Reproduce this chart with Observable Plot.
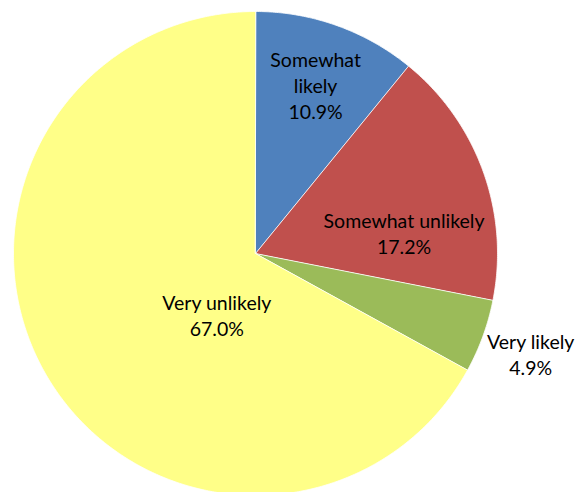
<!DOCTYPE html>
<html>
<head>
<meta charset="utf-8">
<script src="https://cdn.jsdelivr.net/npm/d3@7"></script>
<script src="https://cdn.jsdelivr.net/npm/@observablehq/plot@0.6"></script>
<style>
  html, body { margin: 0; padding: 0; background: #fff; }
  #chart svg { display: block; }
</style>
</head>
<body>
<div id="chart"></div>
<script>
// Data
const categories = ["Somewhat likely", "Somewhat unlikely", "Very likely", "Very unlikely"];
const shares = [10.9, 17.2, 4.9, 67.0];
const colors = ["#4F81BD", "#C0504D", "#9BBB59", "#FFFF88"];

// Label layout (radius fraction, angle shift in degrees)
const labelRadius = [0.74, 0.62, 1.21, 0.30];
const labelShift = [0, 11.7, 0, -27.2];

const pie = d3.pie().sort(null).value(d => d)(shares);

const poly = [];
pie.forEach((p, i) => {
  poly.push({cat: categories[i], x: 0, y: 0});
  const n = Math.max(2, Math.ceil((p.endAngle - p.startAngle) / (Math.PI / 360)));
  for (let k = 0; k <= n; k++) {
    const a = p.startAngle + (p.endAngle - p.startAngle) * k / n;
    poly.push({cat: categories[i], x: Math.sin(a), y: Math.cos(a)});
  }
});

const labels = pie.map((p, i) => {
  const a = (p.startAngle + p.endAngle) / 2 + labelShift[i] * Math.PI / 180;
  return {
    x: labelRadius[i] * Math.sin(a),
    y: labelRadius[i] * Math.cos(a),
    text: categories[i].replace("Somewhat likely", "Somewhat\nlikely") + "\n" + shares[i].toFixed(1) + "%"
  };
});

const W = 575, H = 492, cx = 255, cy = 253, R = 242;

const chart = Plot.plot({
  width: W,
  height: H,
  margin: 0,
  x: {domain: [-cx / R, (W - cx) / R], range: [0, W], axis: null},
  y: {domain: [-(H - cy) / R, cy / R], range: [H, 0], axis: null},
  color: {domain: categories, range: colors},
  style: {background: "white"},
  marks: [
    Plot.line(poly, {x: "x", y: "y", z: "cat", fill: "cat", stroke: "white", strokeWidth: 0.8, curve: "linear-closed"}),
    Plot.text(labels, {x: "x", y: "y", text: "text", fontSize: 19.5, lineHeight: 1.33, fill: "black", fontFamily: "Lato, 'Open Sans', sans-serif"})
  ]
});
document.getElementById("chart").appendChild(chart);
</script>
</body>
</html>
